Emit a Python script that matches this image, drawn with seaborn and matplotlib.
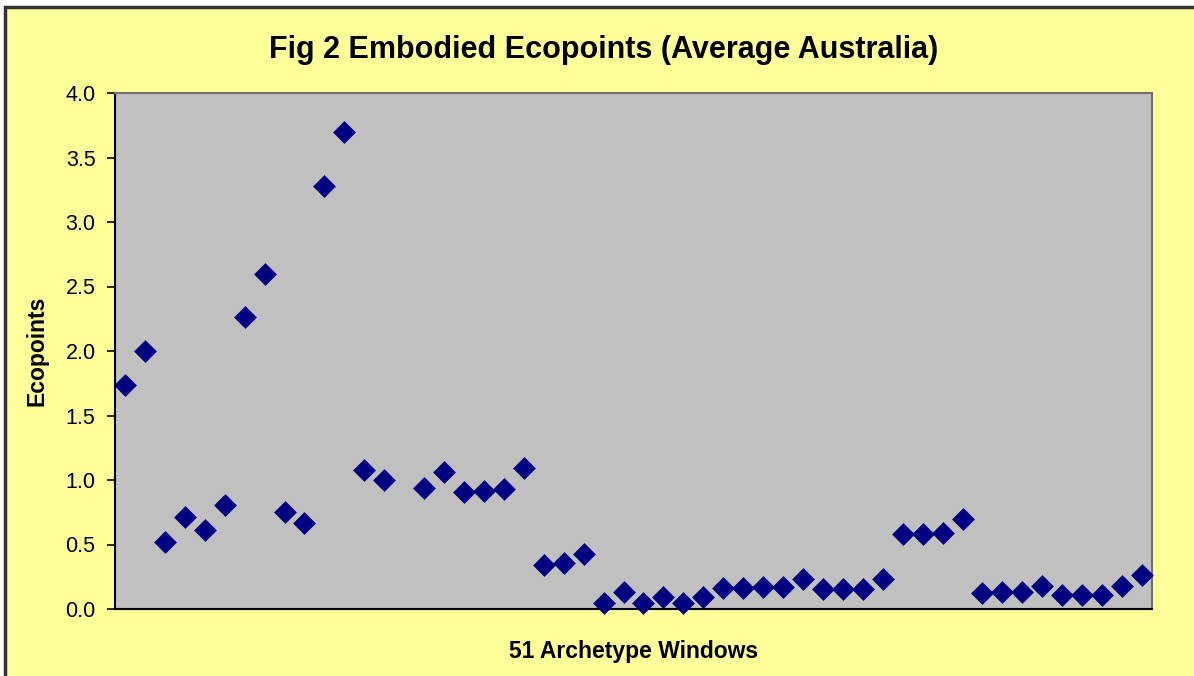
import numpy as np
import pandas as pd
import seaborn as sns
import matplotlib.pyplot as plt
from matplotlib.patches import Rectangle

# Archetype windows (slot 15 is empty in the original sheet)
window_slot = list(range(1, 53))
ecopoints = [1.74, 2.00, 0.52, 0.71, 0.61, 0.81, 2.26, 2.60, 0.75, 0.67,
             3.28, 3.70, 1.08, 1.00, np.nan, 0.94, 1.06, 0.91, 0.915, 0.93,
             1.09, 0.34, 0.36, 0.43, 0.05, 0.13, 0.05, 0.09, 0.045, 0.09,
             0.16, 0.165, 0.17, 0.17, 0.23, 0.155, 0.155, 0.155, 0.23, 0.58,
             0.58, 0.59, 0.70, 0.125, 0.13, 0.13, 0.18, 0.11, 0.11, 0.11,
             0.18, 0.26]
y_ticks = [0.0, 0.5, 1.0, 1.5, 2.0, 2.5, 3.0, 3.5, 4.0]

df = pd.DataFrame({"window": window_slot, "ecopoints": ecopoints}).dropna()

sns.set_style("white")
plt.rcParams["font.family"] = ["Liberation Sans", "DejaVu Sans"]
plt.rcParams["text.color"] = "black"
plt.rcParams["axes.labelcolor"] = "black"
plt.rcParams["ytick.color"] = "black"

fig = plt.figure(figsize=(11.94, 6.76), dpi=100)
fig.patch.set_facecolor("white")
# yellow chart area with dark frame (cropped on right/bottom)
fig.patches.append(Rectangle((5 / 1194, -0.05), 1.1, 1.05 - 7 / 676,
                             transform=fig.transFigure, facecolor="#FFFF99",
                             edgecolor="#333333", linewidth=2.5, zorder=-1))

ax = fig.add_axes([115 / 1194, 67 / 676, 1037 / 1194, 516 / 676])
ax.set_facecolor("#C0C0C0")

sns.scatterplot(data=df, x="window", y="ecopoints", ax=ax, marker="D",
                s=135, color="#000080", linewidth=0, clip_on=False, zorder=3)

ax.set_xlim(0.5, 52.5)
ax.set_ylim(0, 4.0)
ax.set_xticks([])
ax.set_yticks(y_ticks)
ax.set_yticklabels([f"{t:.1f}" for t in y_ticks], fontsize=15.5)
ax.tick_params(axis="y", direction="out", length=6, width=1.2, pad=8, left=True,
               color="black", labelcolor="black")

ax.set_xlabel("51 Archetype Windows", fontsize=16.5, fontweight="bold", labelpad=22)
ax.set_ylabel("Ecopoints", fontsize=16.5, fontweight="bold", labelpad=12)

for side in ["top", "right"]:
    ax.spines[side].set_color("#707070")
    ax.spines[side].set_linewidth(1.5)
for side in ["left", "bottom"]:
    ax.spines[side].set_color("black")
    ax.spines[side].set_linewidth(1.5)

fig.text(604 / 1194, 1 - 50 / 676, "Fig 2 Embodied Ecopoints (Average Australia)",
         ha="center", va="center", fontsize=22, fontweight="bold", color="black")

fig.savefig("out.png", dpi=100, facecolor=fig.get_facecolor())
